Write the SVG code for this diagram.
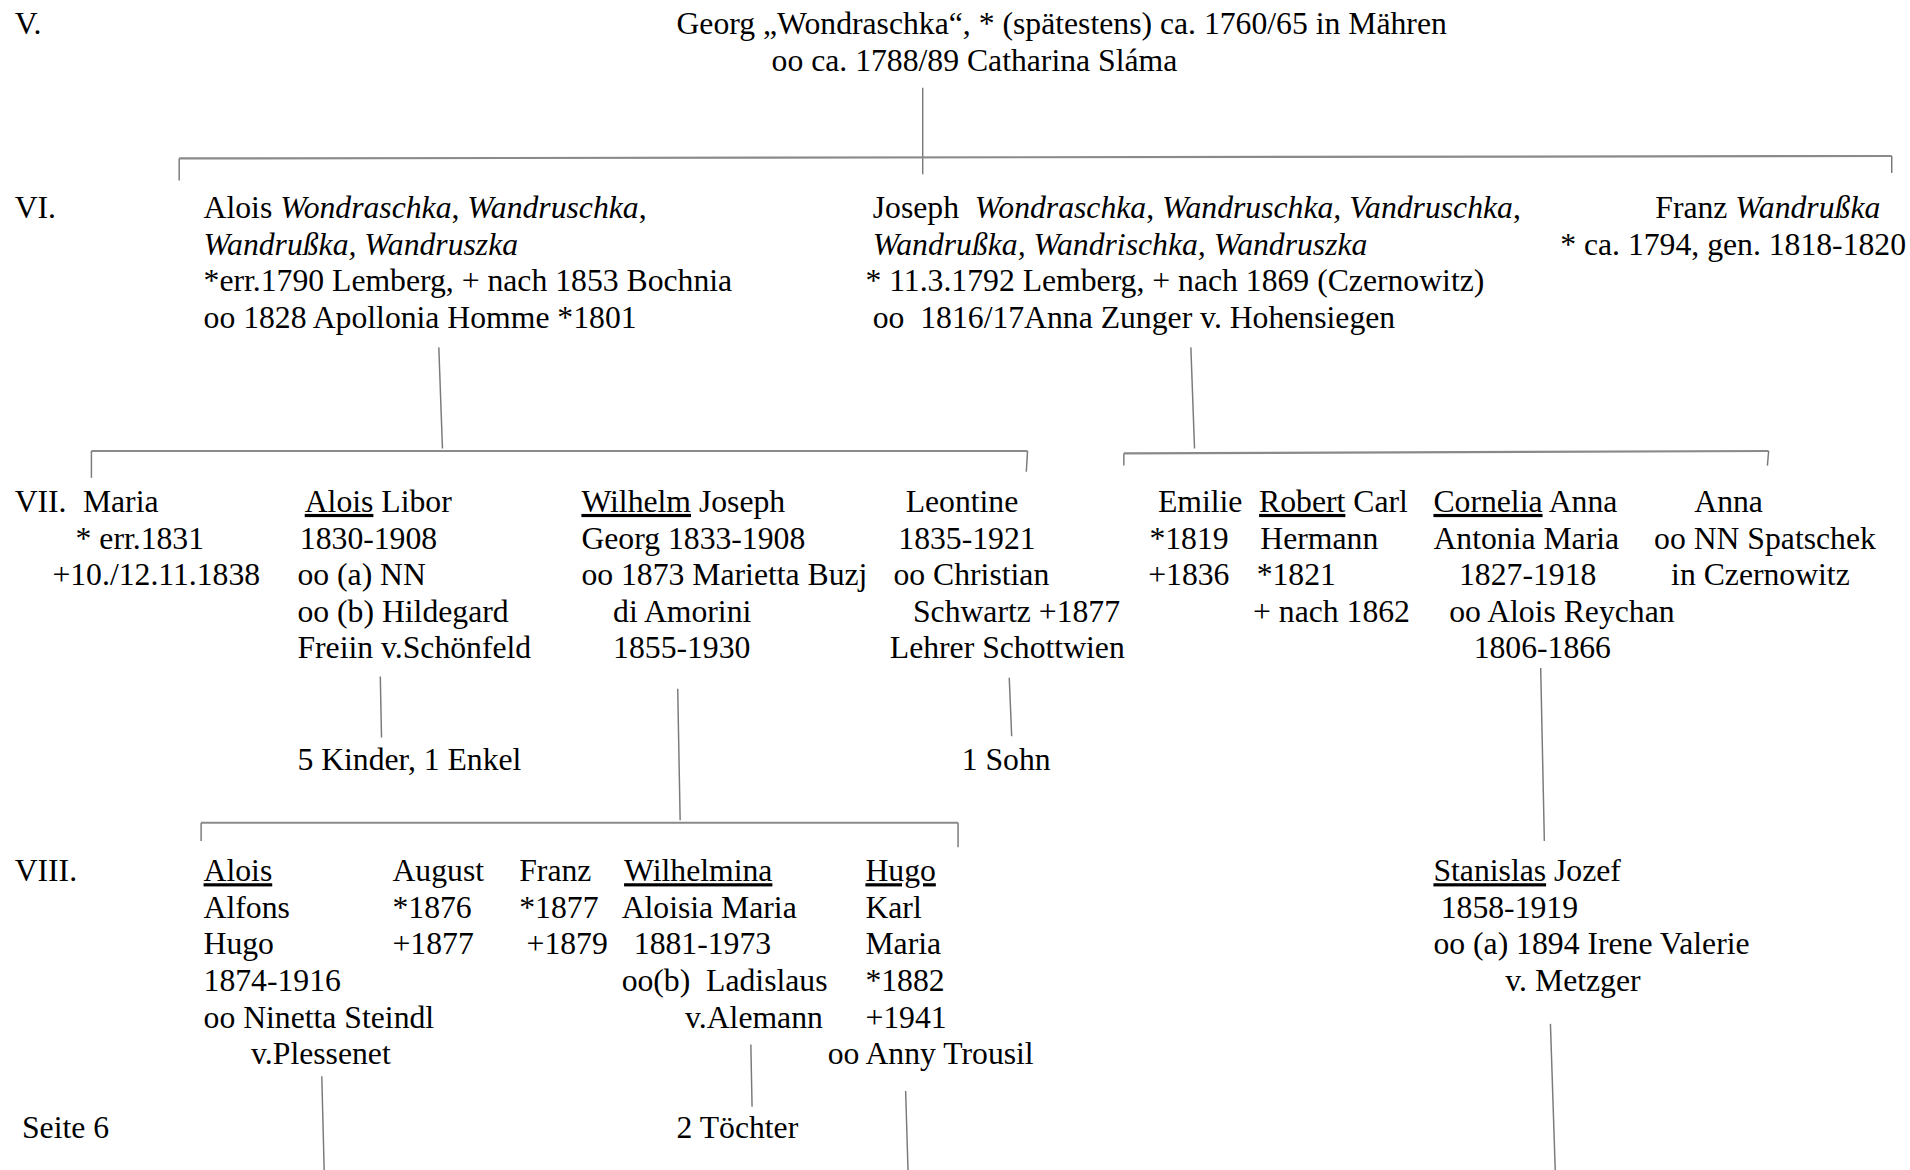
<svg xmlns="http://www.w3.org/2000/svg" width="1910" height="1170" viewBox="0 0 1910 1170">
<style>
text{font-family:"Liberation Serif","Times New Roman",serif;font-size:26px;fill:#000}
.i{font-style:italic}
.u{text-decoration:underline}
.c line{stroke:#7a7a7a;stroke-width:1.2;fill:none}
.c .h{stroke:#8a8a8a;stroke-width:1.8}
</style>
<rect width="1910" height="1170" fill="#fff"/>
<g transform="scale(1.2189)">
<g id="labels">
<text x="12" y="28">V.</text>
<text x="12" y="179">VI.</text>
<text x="12" y="420">VII.</text>
<text x="12" y="723">VIII.</text>
<text x="18" y="934">Seite 6</text>
</g>
<g id="georg">
<text x="555" y="28">Georg „Wondraschka“, * (spätestens) ca. 1760/65 in Mähren</text>
<text x="633" y="58">oo ca. 1788/89 Catharina Sláma</text>
</g>
<g id="alois-vi">
<text x="167" y="179">Alois <tspan class="i">Wondraschka</tspan>, <tspan class="i">Wandruschka</tspan>,</text>
<text x="167" y="209" class="i">Wandrußka, Wandruszka</text>
<text x="167" y="239">*err.1790 Lemberg, + nach 1853 Bochnia</text>
<text x="167" y="269">oo 1828 Apollonia Homme *1801</text>
</g>
<g id="joseph-vi">
<text x="716" y="179" xml:space="preserve">Joseph  <tspan class="i">Wondraschka</tspan>, <tspan class="i">Wandruschka, Vandruschka</tspan>,</text>
<text x="716" y="209" class="i">Wandrußka, Wandrischka, Wandruszka</text>
<text x="710" y="239">* 11.3.1792 Lemberg, + nach 1869 (Czernowitz)</text>
<text x="716" y="269" xml:space="preserve">oo  1816/17Anna Zunger v. Hohensiegen</text>
</g>
<g id="franz-vi">
<text x="1358" y="179">Franz <tspan class="i">Wandrußka</tspan></text>
<text x="1280" y="209">* ca. 1794, gen. 1818-1820</text>
</g>
<g id="maria-vii">
<text x="68" y="420">Maria</text>
<text x="62" y="450">* err.1831</text>
<text x="43" y="480">+10./12.11.1838</text>
</g>
<g id="alois-vii">
<text x="250" y="420"><tspan class="u">Alois</tspan> Libor</text>
<text x="246" y="450">1830-1908</text>
<text x="244" y="480">oo (a) NN</text>
<text x="244" y="510">oo (b) Hildegard</text>
<text x="244" y="540">Freiin v.Schönfeld</text>
<text x="244" y="632">5 Kinder, 1 Enkel</text>
</g>
<g id="wilhelm-vii">
<text x="477" y="420"><tspan class="u">Wilhelm</tspan> Joseph</text>
<text x="477" y="450">Georg 1833-1908</text>
<text x="477" y="480">oo 1873 Marietta Buzj</text>
<text x="503" y="510">di Amorini</text>
<text x="503" y="540">1855-1930</text>
</g>
<g id="leontine-vii">
<text x="743" y="420">Leontine</text>
<text x="737" y="450">1835-1921</text>
<text x="733" y="480">oo Christian</text>
<text x="749" y="510">Schwartz +1877</text>
<text x="730" y="540">Lehrer Schottwien</text>
<text x="789" y="632">1 Sohn</text>
</g>
<g id="emilie-vii">
<text x="950" y="420">Emilie</text>
<text x="943" y="450">*1819</text>
<text x="942" y="480">+1836</text>
</g>
<g id="robert-vii">
<text x="1033" y="420"><tspan class="u">Robert</tspan> Carl</text>
<text x="1034" y="450">Hermann</text>
<text x="1031" y="480">*1821</text>
<text x="1028" y="510">+ nach 1862</text>
</g>
<g id="cornelia-vii">
<text x="1176" y="420"><tspan class="u">Cornelia</tspan> Anna</text>
<text x="1176" y="450">Antonia Maria</text>
<text x="1197" y="480">1827-1918</text>
<text x="1189" y="510">oo Alois Reychan</text>
<text x="1209" y="540">1806-1866</text>
</g>
<g id="anna-vii">
<text x="1390" y="420">Anna</text>
<text x="1357" y="450">oo NN Spatschek</text>
<text x="1371" y="480">in Czernowitz</text>
</g>
<g id="alois-viii">
<text x="167" y="723" class="u">Alois</text>
<text x="167" y="753">Alfons</text>
<text x="167" y="783">Hugo</text>
<text x="167" y="813">1874-1916</text>
<text x="167" y="843">oo Ninetta Steindl</text>
<text x="206" y="873">v.Plessenet</text>
</g>
<g id="august-viii">
<text x="322" y="723">August</text>
<text x="322" y="753">*1876</text>
<text x="322" y="783">+1877</text>
</g>
<g id="franz-viii">
<text x="426" y="723">Franz</text>
<text x="426" y="753">*1877</text>
<text x="432" y="783">+1879</text>
</g>
<g id="wilhelmina-viii">
<text x="512" y="723" class="u">Wilhelmina</text>
<text x="510" y="753">Aloisia Maria</text>
<text x="520" y="783">1881-1973</text>
<text x="510" y="813" xml:space="preserve">oo(b)  Ladislaus</text>
<text x="562" y="843">v.Alemann</text>
<text x="555" y="934">2 Töchter</text>
</g>
<g id="hugo-viii">
<text x="710" y="723" class="u">Hugo</text>
<text x="710" y="753">Karl</text>
<text x="710" y="783">Maria</text>
<text x="710" y="813">*1882</text>
<text x="710" y="843">+1941</text>
<text x="679" y="873">oo Anny Trousil</text>
</g>
<g id="stanislas-viii">
<text x="1176" y="723"><tspan class="u">Stanislas</tspan> Jozef</text>
<text x="1182" y="753">1858-1919</text>
<text x="1176" y="783">oo (a) 1894 Irene Valerie</text>
<text x="1235" y="813">v. Metzger</text>
</g>
<g id="connectors" class="c">
<line x1="757" y1="72" x2="757" y2="143"/>
<line class="h" x1="147" y1="130" x2="1552" y2="128"/>
<line x1="147" y1="130" x2="147" y2="148"/>
<line x1="1552" y1="128" x2="1552" y2="142"/>
<line x1="360" y1="285" x2="363" y2="368"/>
<line class="h" x1="75" y1="370" x2="843" y2="370"/>
<line x1="75" y1="370" x2="75" y2="392"/>
<line x1="843" y1="370" x2="842" y2="387"/>
<line x1="977" y1="285" x2="980" y2="368"/>
<line class="h" x1="922" y1="372" x2="1451" y2="370"/>
<line x1="922" y1="372" x2="922" y2="382"/>
<line x1="1451" y1="370" x2="1450" y2="382"/>
<line x1="312" y1="555" x2="313" y2="605"/>
<line x1="556" y1="565" x2="558" y2="673"/>
<line class="h" x1="165" y1="675" x2="786" y2="675"/>
<line x1="165" y1="675" x2="165" y2="690"/>
<line x1="786" y1="675" x2="786" y2="695"/>
<line x1="828" y1="556" x2="830" y2="604"/>
<line x1="1264" y1="548" x2="1267" y2="690"/>
<line x1="264" y1="883" x2="266" y2="962"/>
<line x1="616" y1="857" x2="617" y2="908"/>
<line x1="743" y1="895" x2="745" y2="962"/>
<line x1="1272" y1="840" x2="1276" y2="962"/>
</g>
</g>
</svg>
